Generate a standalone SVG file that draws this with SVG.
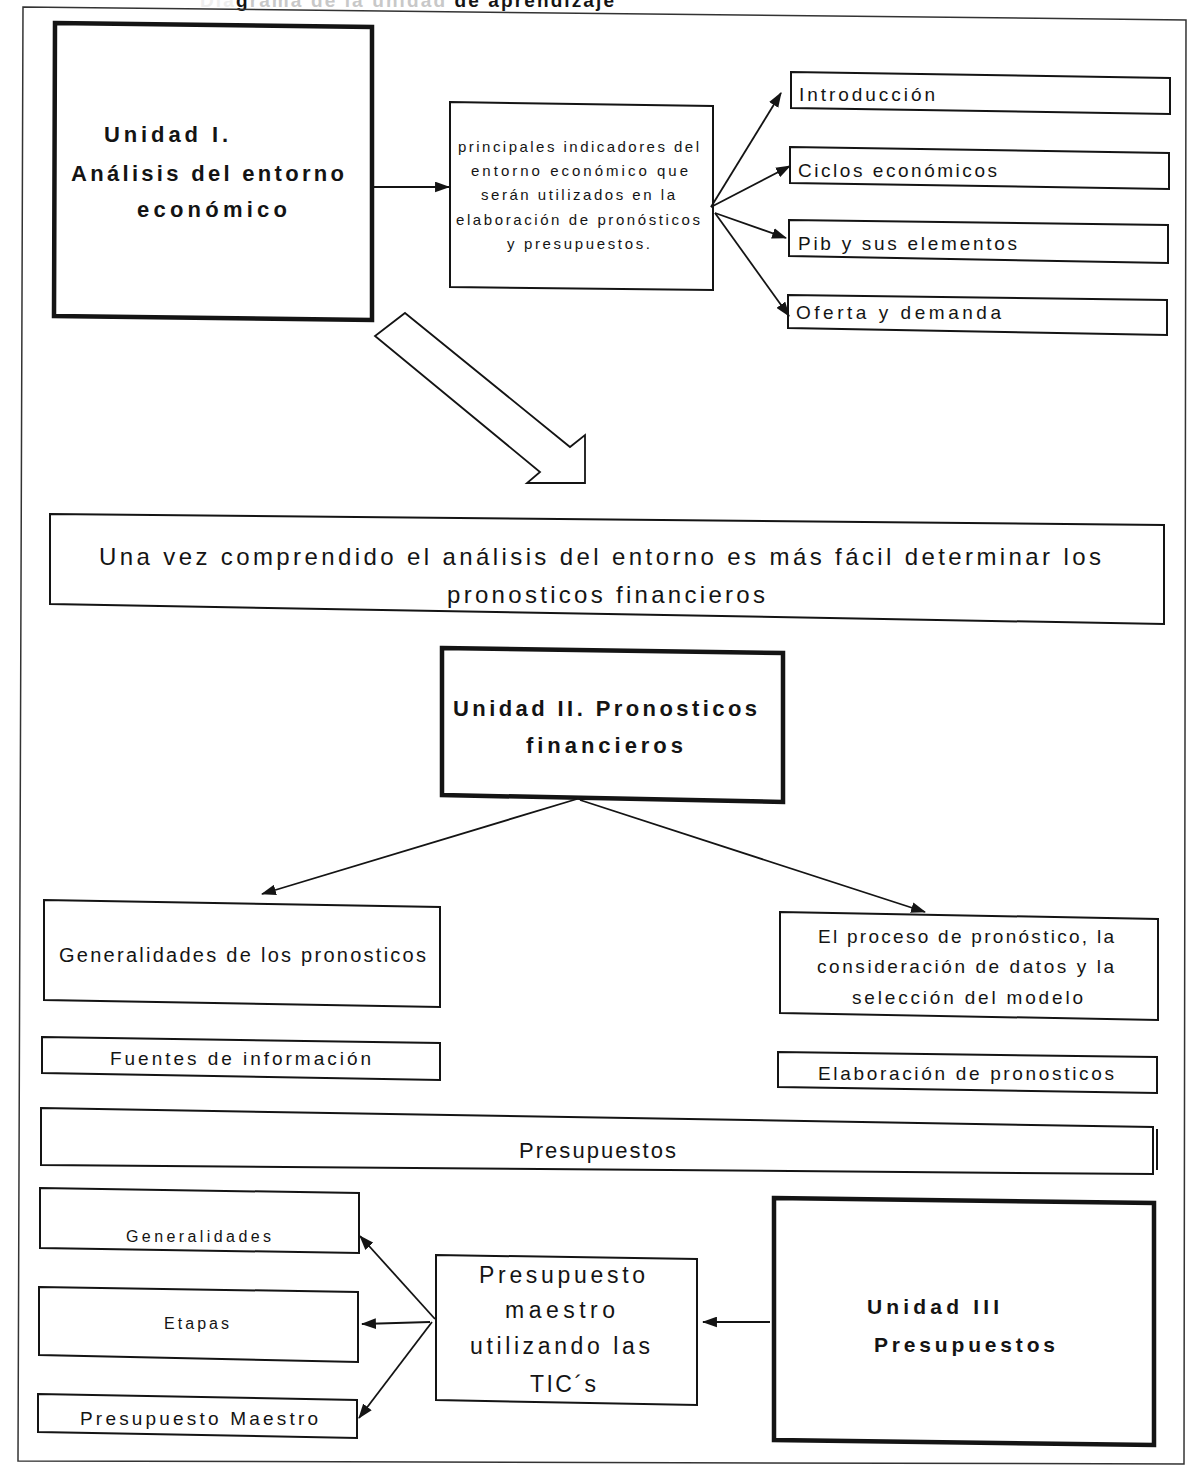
<svg xmlns="http://www.w3.org/2000/svg" width="1199" height="1474" viewBox="0 0 1199 1474">
<style>
.bx{fill:#fff;stroke:#141414;stroke-width:2}
.tk{stroke-width:4.5}
.t{font-family:"Liberation Sans",Arial,sans-serif;fill:#141414}
.b{font-weight:bold}
.conn line{stroke:#141414;stroke-width:1.8;marker-end:url(#ah)}
</style>
<defs>
<marker id="ah" viewBox="0 0 14 10" refX="13" refY="5" markerWidth="15" markerHeight="11" markerUnits="userSpaceOnUse" orient="auto"><path d="M0,0 L14,5 L0,10 z" fill="#141414"/></marker>
</defs>
<rect width="1199" height="1474" fill="#fff"/>
<text class="t b" x="200" y="7" font-size="19" textLength="414" lengthAdjust="spacing"><tspan fill="#eee">Dia</tspan><tspan>g</tspan><tspan fill="#c8c8c8">rama de la unidad </tspan><tspan>de aprendizaje</tspan></text>
<path d="M23,7 L1186,20 L1184,1464 L18,1461 Z" fill="none" stroke="#333" stroke-width="1.5"/>

<g id="unidad1">
<polygon class="bx tk" points="55,23 372,27 372,320 54,316"/>
<text class="t b" x="104" y="142" font-size="22" textLength="124" lengthAdjust="spacing">Unidad I.</text>
<text class="t b" x="71" y="181" font-size="22" textLength="273" lengthAdjust="spacing">Análisis del entorno</text>
<text class="t b" x="137" y="217" font-size="22" textLength="150" lengthAdjust="spacing">económico</text>
</g>
<g id="principales">
<polygon class="bx" points="450,102 713,106 713,290 450,287"/>
<text class="t" x="458" y="152" font-size="15" textLength="241" lengthAdjust="spacing">principales indicadores del</text>
<text class="t" x="471" y="176" font-size="15" textLength="217" lengthAdjust="spacing">entorno económico que</text>
<text class="t" x="481" y="200" font-size="15" textLength="194" lengthAdjust="spacing">serán utilizados en la</text>
<text class="t" x="456" y="225" font-size="15" textLength="244" lengthAdjust="spacing">elaboración de pronósticos</text>
<text class="t" x="507" y="249" font-size="15" textLength="143" lengthAdjust="spacing">y presupuestos.</text>
</g>
<g id="introduccion">
<polygon class="bx" points="791,72 1170,78 1170,114 791,108"/>
<text class="t" x="799" y="101" font-size="19" textLength="136" lengthAdjust="spacing">Introducción</text>
</g>
<g id="ciclos">
<polygon class="bx" points="790,147 1169,153 1169,189 790,183"/>
<text class="t" x="798" y="177" font-size="19" textLength="199" lengthAdjust="spacing">Ciclos económicos</text>
</g>
<g id="pib">
<polygon class="bx" points="789,220 1168,225 1168,263 789,256"/>
<text class="t" x="798" y="250" font-size="19" textLength="219" lengthAdjust="spacing">Pib y sus elementos</text>
</g>
<g id="oferta">
<polygon class="bx" points="788,295 1167,300 1167,335 788,328"/>
<text class="t" x="796" y="319" font-size="19" textLength="205" lengthAdjust="spacing">Oferta y demanda</text>
</g>
<g id="flecha-grande">
<polygon points="405,313 570,447 585,435 585,483 527,483 540,472 375,336" fill="#fff" stroke="#141414" stroke-width="1.8" stroke-linejoin="miter"/>
</g>
<g id="una-vez">
<polygon class="bx" points="50,514 1164,525 1164,624 50,604"/>
<text class="t" x="99" y="565" font-size="24" textLength="1002" lengthAdjust="spacing">Una vez comprendido el análisis del entorno es más fácil determinar los</text>
<text class="t" x="447" y="603" font-size="24" textLength="318" lengthAdjust="spacing">pronosticos financieros</text>
</g>
<g id="unidad2">
<polygon class="bx tk" points="442,648 783,653 783,802 442,795"/>
<text class="t b" x="453" y="716" font-size="22" textLength="304" lengthAdjust="spacing">Unidad II.  Pronosticos</text>
<text class="t b" x="526" y="753" font-size="22" textLength="157" lengthAdjust="spacing">financieros</text>
</g>
<g id="generalidades-pron">
<polygon class="bx" points="44,900 440,907 440,1007 44,1000"/>
<text class="t" x="59" y="962" font-size="20" textLength="367" lengthAdjust="spacing">Generalidades de los pronosticos</text>
</g>
<g id="proceso">
<polygon class="bx" points="780,912 1158,919 1158,1020 780,1013"/>
<text class="t" x="818" y="943" font-size="19" textLength="296" lengthAdjust="spacing">El proceso de pronóstico, la</text>
<text class="t" x="817" y="973" font-size="19" textLength="297" lengthAdjust="spacing">consideración de datos y la</text>
<text class="t" x="852" y="1004" font-size="19" textLength="231" lengthAdjust="spacing">selección del modelo</text>
</g>
<g id="fuentes">
<polygon class="bx" points="42,1037 440,1043 440,1080 42,1073"/>
<text class="t" x="110" y="1065" font-size="19" textLength="261" lengthAdjust="spacing">Fuentes de información</text>
</g>
<g id="elaboracion">
<polygon class="bx" points="778,1052 1157,1057 1157,1093 778,1087"/>
<text class="t" x="818" y="1080" font-size="19" textLength="296" lengthAdjust="spacing">Elaboración de pronosticos</text>
</g>
<g id="presupuestos">
<polygon class="bx" points="41,1108 1153,1127 1153,1174 41,1165"/>
<line x1="1157" y1="1129" x2="1157" y2="1170" stroke="#141414" stroke-width="2"/>
<text class="t" x="519" y="1158" font-size="22" textLength="157" lengthAdjust="spacing">Presupuestos</text>
</g>
<g id="generalidades">
<polygon class="bx" points="40,1188 359,1193 359,1253 40,1248"/>
<text class="t" x="126" y="1242" font-size="16" textLength="145" lengthAdjust="spacing">Generalidades</text>
</g>
<g id="etapas">
<polygon class="bx" points="39,1287 358,1292 358,1362 39,1355"/>
<text class="t" x="164" y="1329" font-size="16" textLength="65" lengthAdjust="spacing">Etapas</text>
</g>
<g id="presupuesto-maestro">
<polygon class="bx" points="38,1394 357,1400 357,1438 38,1432"/>
<text class="t" x="80" y="1425" font-size="19" textLength="238" lengthAdjust="spacing">Presupuesto Maestro</text>
</g>
<g id="tics">
<polygon class="bx" points="436,1255 697,1259 697,1405 436,1400"/>
<text class="t" x="479" y="1283" font-size="23" textLength="166" lengthAdjust="spacing">Presupuesto</text>
<text class="t" x="505" y="1318" font-size="23" textLength="110" lengthAdjust="spacing">maestro</text>
<text class="t" x="470" y="1354" font-size="23" textLength="180" lengthAdjust="spacing">utilizando las</text>
<text class="t" x="530" y="1392" font-size="23" textLength="66" lengthAdjust="spacing">TIC´s</text>
</g>
<g id="unidad3">
<polygon class="bx tk" points="774,1198 1154,1203 1154,1445 774,1440"/>
<text class="t b" x="867" y="1314" font-size="21" textLength="132" lengthAdjust="spacing">Unidad III</text>
<text class="t b" x="874" y="1352" font-size="21" textLength="181" lengthAdjust="spacing">Presupuestos</text>
</g>

<g id="connectors" class="conn">
<line x1="374" y1="187" x2="449" y2="187"/>
<line x1="711" y1="207" x2="781" y2="93"/>
<line x1="711" y1="207" x2="790" y2="166"/>
<line x1="715" y1="213" x2="786" y2="238"/>
<line x1="715" y1="213" x2="789" y2="316"/>
<line x1="577" y1="799" x2="262" y2="894"/>
<line x1="580" y1="800" x2="925" y2="912"/>
<line x1="435" y1="1319" x2="360" y2="1236"/>
<line x1="430" y1="1322" x2="362" y2="1324"/>
<line x1="432" y1="1322" x2="359" y2="1418"/>
<line x1="770" y1="1322" x2="703" y2="1322"/>
</g>
</svg>
